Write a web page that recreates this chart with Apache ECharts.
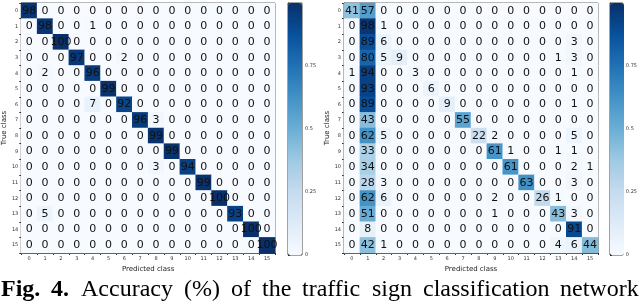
<!DOCTYPE html>
<html><head><meta charset="utf-8">
<script src="https://cdn.jsdelivr.net/npm/echarts@6/dist/echarts.min.js"></script>
<style>html,body{margin:0;padding:0;background:#fff}#c{width:640px;height:303px}</style>
</head><body><div id="c"></div>
<script>
const classes = ['0','1','2','3','4','5','6','7','8','9','10','11','12','13','14','15'];
const leftMatrix = [
 [98,0,0,0,0,0,0,0,0,0,0,0,0,0,0,0],
 [0,98,0,0,1,0,0,0,0,0,0,0,0,0,0,0],
 [0,0,100,0,0,0,0,0,0,0,0,0,0,0,0,0],
 [0,0,0,97,0,0,2,0,0,0,0,0,0,0,0,0],
 [0,2,0,0,96,0,0,0,0,0,0,0,0,0,0,0],
 [0,0,0,0,0,99,0,0,0,0,0,0,0,0,0,0],
 [0,0,0,0,7,0,92,0,0,0,0,0,0,0,0,0],
 [0,0,0,0,0,0,0,96,3,0,0,0,0,0,0,0],
 [0,0,0,0,0,0,0,0,99,0,0,0,0,0,0,0],
 [0,0,0,0,0,0,0,0,0,99,0,0,0,0,0,0],
 [0,0,0,0,0,0,0,0,3,0,94,0,0,0,0,0],
 [0,0,0,0,0,0,0,0,0,0,0,99,0,0,0,0],
 [0,0,0,0,0,0,0,0,0,0,0,0,100,0,0,0],
 [0,5,0,0,0,0,0,0,0,0,0,0,0,93,0,0],
 [0,0,0,0,0,0,0,0,0,0,0,0,0,0,100,0],
 [0,0,0,0,0,0,0,0,0,0,0,0,0,0,0,100]
];
const rightMatrix = [
 [41,57,0,0,0,0,0,0,0,0,0,0,0,0,0,0],
 [0,98,1,0,0,0,0,0,0,0,0,0,0,0,0,0],
 [0,89,6,0,0,0,0,0,0,0,0,0,0,0,3,0],
 [0,80,5,9,0,0,0,0,0,0,0,0,0,1,3,0],
 [1,94,0,0,3,0,0,0,0,0,0,0,0,0,1,0],
 [0,93,0,0,0,6,0,0,0,0,0,0,0,0,0,0],
 [0,89,0,0,0,0,9,0,0,0,0,0,0,0,1,0],
 [0,43,0,0,0,0,0,55,0,0,0,0,0,0,0,0],
 [0,62,5,0,0,0,0,0,22,2,0,0,0,0,5,0],
 [0,33,0,0,0,0,0,0,0,61,1,0,0,1,1,0],
 [0,34,0,0,0,0,0,0,0,0,61,0,0,0,2,1],
 [0,28,3,0,0,0,0,0,0,0,0,63,0,0,3,0],
 [0,62,6,0,0,0,0,0,0,2,0,0,26,1,0,0],
 [0,51,0,0,0,0,0,0,0,1,0,0,0,43,3,0],
 [0,8,0,0,0,0,0,0,0,0,0,0,0,0,91,0],
 [0,42,1,0,0,0,0,0,0,0,0,0,0,4,6,44]
];
const colorbarTicks = [0, 0.25, 0.5, 0.75, 1];
const xTitle = 'Predicted class';
const yTitle = 'True class';
const captionWords = [
 {t:'Fig.', b:true}, {t:'4.', b:true}, {t:'Accuracy'}, {t:'(%)'}, {t:'of'}, {t:'the'},
 {t:'traffic'}, {t:'sign'}, {t:'classification'}, {t:'network'}
];

const blues = ['#f7fbff','#deebf7','#c6dbef','#9ecae1','#6baed6','#4292c6','#2171b5','#08519c','#08306b'];
function toData(m){const d=[];m.forEach((row,r)=>row.forEach((v,c)=>d.push([c,r,v])));return d;}

const grids = [
 {left:21, top:3, width:254, height:250},
 {left:344, top:3, width:254, height:250},
 {left:288, top:3, width:14, height:252},
 {left:610, top:3, width:14, height:252}
];
const lab = {fontFamily:'DejaVu Sans', fontSize:5, color:'#333'};
function hx(gi){return {type:'category', gridIndex:gi, data:classes, position:'bottom',
  axisLine:{show:true,lineStyle:{color:'#333',width:1}}, axisTick:{show:true,length:2,lineStyle:{color:'#333'}},
  axisLabel:Object.assign({margin:3},lab), splitArea:{show:false},
  name:xTitle, nameLocation:'middle', nameGap:11, nameTextStyle:{fontFamily:'DejaVu Sans',fontSize:7,color:'#222'}};}
function hy(gi){return {type:'category', gridIndex:gi, data:classes, inverse:true,
  axisLine:{show:true,lineStyle:{color:'#333',width:1}}, axisTick:{show:true,length:2,lineStyle:{color:'#333'}},
  axisLabel:Object.assign({margin:3},lab),
  name:yTitle, nameLocation:'middle', nameGap:13, nameTextStyle:{fontFamily:'DejaVu Sans',fontSize:7,color:'#222'}};}
function cbx(gi){return {type:'value', gridIndex:gi, show:false, min:0, max:1};}
function cby(gi){return {type:'value', gridIndex:gi, min:0, max:1, interval:0.25, position:'right',
  axisLine:{show:true,lineStyle:{color:'#333'}}, axisTick:{show:true,length:2,lineStyle:{color:'#333'}},
  splitLine:{show:false},
  axisLabel:Object.assign({margin:3, formatter:v=>colorbarTicks.indexOf(v)>=0?(v===1?'':String(v)):''},lab)};}

const labelStyle = {show:true, fontFamily:'DejaVu Sans', fontSize:11, color:'#111'};

// justified caption line
const capSize = 24;
const ctx = document.createElement('canvas').getContext('2d');
const fonts = captionWords.map(w=>(w.b?'bold ':'')+capSize+'px "Liberation Serif"');
const widths = captionWords.map((w,i)=>{ctx.font=fonts[i];return ctx.measureText(w.t).width;});
const total = widths.reduce((a,b)=>a+b,0);
const lineL = 1, lineR = 639;
const gap = (lineR-lineL-total)/(captionWords.length-1);
let cx = lineL;
const graphics = captionWords.map((w,i)=>{const g={type:'text', left:Math.round(cx), top:278, silent:true,
  style:{text:w.t, font:fonts[i], fill:'#000'}}; cx += widths[i]+gap; return g;});

const chart = echarts.init(document.getElementById('c'), null, {renderer:'canvas'});
chart.setOption({
 animation:false,
 grid: grids.map(g=>Object.assign({show:true, borderColor:'#444', borderWidth:1, backgroundColor:'transparent'}, g)),
 xAxis:[hx(0), hx(1), cbx(2), cbx(3)],
 yAxis:[hy(0), hy(1), cby(2), cby(3)],
 visualMap:[
  {type:'continuous', seriesIndex:0, min:0, max:100, inRange:{color:blues}, left:288, top:3, itemWidth:14, itemHeight:252, padding:0, calculable:false, text:null, showLabel:false, orient:'vertical', textStyle:{fontSize:0}},
  {type:'continuous', seriesIndex:1, min:0, max:100, inRange:{color:blues}, left:610, top:3, itemWidth:14, itemHeight:252, padding:0, calculable:false, text:null, showLabel:false, orient:'vertical', textStyle:{fontSize:0}}
 ],
 series:[
  {type:'heatmap', xAxisIndex:0, yAxisIndex:0, data:toData(leftMatrix), label:labelStyle, itemStyle:{borderWidth:0}, emphasis:{disabled:true}},
  {type:'heatmap', xAxisIndex:1, yAxisIndex:1, data:toData(rightMatrix), label:labelStyle, itemStyle:{borderWidth:0}, emphasis:{disabled:true}}
 ],
 graphic: graphics
});
</script></body></html>
